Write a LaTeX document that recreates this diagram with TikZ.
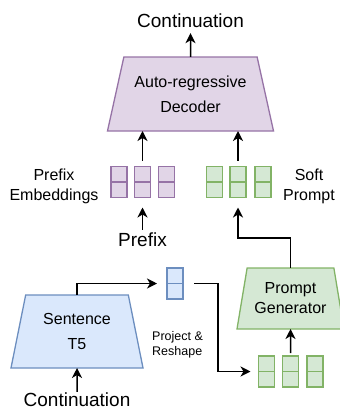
\documentclass[tikz,border=0pt]{standalone}
\usepackage{fontspec}
\setmainfont{Liberation Sans}
\usetikzlibrary{shapes.geometric,arrows.meta}
\definecolor{decfill}{HTML}{E1D5E7}
\definecolor{decline}{HTML}{9673A6}
\definecolor{genfill}{HTML}{D5E8D4}
\definecolor{genline}{HTML}{82B366}
\definecolor{encfill}{HTML}{DAE8FC}
\definecolor{encline}{HTML}{6C8EBF}
\tikzset{block/.style = {shape=trapezium, draw, trapezium stretches body, inner ysep=0pt, outer sep=0pt, line width=1.3pt, align=center, font=\fontsize{16}{25}\selectfont}}
\tikzset{cellvec/.style = {shape=rectangle, draw, minimum width=16pt, minimum height=31pt, inner sep=0pt, outer sep=0pt, line width=1.3pt, path picture={\draw[line width=1.3pt] (path picture bounding box.west) -- (path picture bounding box.east);}}}
\tikzset{txt/.style = {inner sep=0pt, align=center, font=\fontsize{16}{20}\selectfont}}
\tikzset{edge/.style = {-{Stealth[length=10pt,width=10pt,inset=3pt]}, line width=1.5pt}}

\begin{document}
\begin{tikzpicture}[x=1pt,y=-1pt]
\useasboundingbox (0,0) rectangle (340,410);
% blocks
\node[block, fill=decfill, draw=decline, inner xsep=-8pt, trapezium left angle=66, trapezium right angle=66, minimum width=166pt, minimum height=74pt] (dec) at (190.5,94) {Auto-regressive\\Decoder};
\node[block, fill=encfill, draw=encline, inner xsep=0pt, trapezium left angle=68, trapezium right angle=68, minimum width=132pt, minimum height=73pt] (t5) at (77,331.5) {Sentence\\T5};
\node[block, fill=genfill, draw=genline, inner xsep=-4pt, trapezium left angle=72, trapezium right angle=72, minimum width=107pt, minimum height=61pt, font=\fontsize{16}{20}\selectfont] (gen) at (290.5,298.5) {Prompt\\Generator};
% vectors
\foreach \i/\x in {1/119,2/142.5,3/166.5}
  \node[cellvec, fill=decfill, draw=decline] (pe\i) at (\x,182) {};
\foreach \i/\x in {1/214.5,2/238,3/263}
  \node[cellvec, fill=genfill, draw=genline] (sp\i) at (\x,182) {};
\foreach \i/\x in {1/266.5,2/290.5,3/315}
  \node[cellvec, fill=genfill, draw=genline] (pg\i) at (\x,371.5) {};
\node[cellvec, fill=encfill, draw=encline] (emb) at (175,283.5) {};
% labels
\node[txt, font=\fontsize{19}{23}\selectfont] (out) at (190.5,21) {Continuation};
\node[txt, font=\fontsize{19}{23}\selectfont] (pre) at (142.5,240) {Prefix};
\node[txt, font=\fontsize{19}{23}\selectfont] (inp) at (77,400) {Continuation};
\node[txt] (pelab) at (54,186) {Prefix\\Embeddings};
\node[txt] (splab) at (309,186) {Soft\\Prompt};
\node[txt, align=left, anchor=west, font=\fontsize{12.5}{15}\selectfont] (proj) at (152,344.5) {Project \&\\Reshape};
%edges
\draw[edge, shorten >=5pt] (dec.north) -- (out.south);
\draw[edge, shorten <=6pt] (pe2.north) -- (pe2.north |- dec.south);
\draw[edge, shorten <=6pt] (sp2.north) -- (sp2.north |- dec.south);
\draw[edge, shorten <=3pt, shorten >=10pt] (pre.north) -- (pe2.south);
\draw[edge, shorten >=10pt] (gen.north) -- ++(0,-30) -| (sp2.south);
\draw[edge, shorten >=10pt] (t5.north) |- (emb.west);
\draw[edge, shorten <=11pt, shorten >=8pt] (emb.east) -- ++(35,0) |- (pg1.west);
\draw[edge, shorten <=3pt] (pg2.north) -- (gen.south);
\draw[edge, shorten <=1pt] (inp.north) -- (t5.south);
\end{tikzpicture}
\end{document}
